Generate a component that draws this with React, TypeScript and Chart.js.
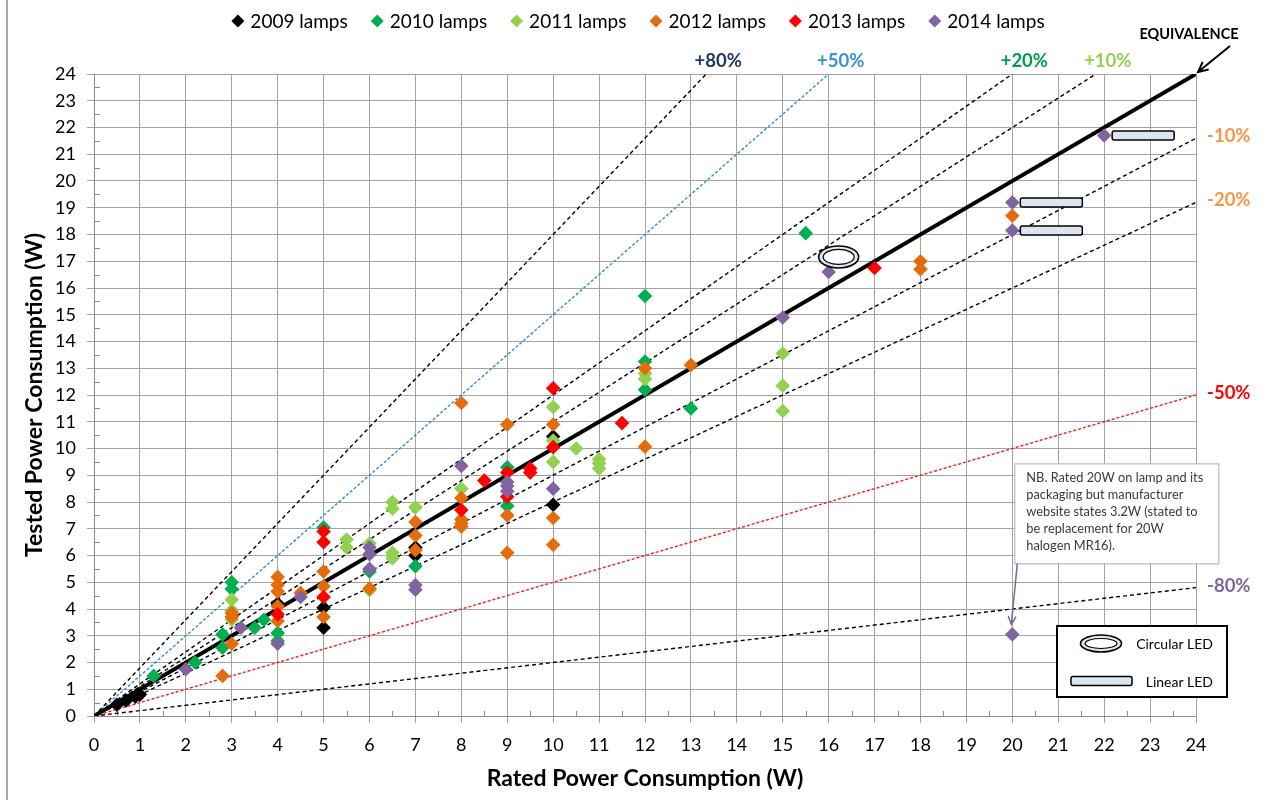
import React, { useEffect, useRef } from "react";
import { Chart, registerables } from "chart.js";

Chart.register(...registerables);

const FONT = "Lato, 'Open Sans', sans-serif";

// Lamp series: rated power (W) and tested power (W)
const seriesNames = ["2009 lamps", "2010 lamps", "2011 lamps", "2012 lamps", "2013 lamps", "2014 lamps"];
const seriesColors = ["#000000", "#00b050", "#92d050", "#e46c0a", "#ff0000", "#8064a2"];

const rated2009 = [0.5, 0.7, 0.9, 1, 4, 5, 5, 7, 7, 10, 10];
const tested2009 = [0.42, 0.58, 0.72, 0.8, 4.2, 4.05, 3.3, 6.0, 6.3, 10.45, 7.9];

const rated2010 = [1.3, 2.2, 2.8, 2.8, 3, 3, 3.5, 3.7, 4, 4, 5, 6, 7, 9, 9, 12, 12, 12, 13, 15.5];
const tested2010 = [1.5, 2.0, 3.05, 2.55, 5.0, 4.75, 3.3, 3.6, 3.1, 2.8, 7.05, 5.4, 5.6, 9.3, 7.85, 15.7, 13.25, 12.2, 11.5, 18.05];

const rated2011 = [3, 3, 3, 5.5, 5.5, 6, 6, 6.5, 6.5, 6.5, 6.5, 7, 8, 10, 10, 10, 10.5, 11, 11, 11, 12, 12, 15, 15, 15];
const tested2011 = [4.35, 3.95, 3.6, 6.6, 6.3, 6.45, 4.7, 8.0, 7.75, 6.1, 5.9, 7.8, 8.5, 11.55, 10.3, 9.5, 10.0, 9.6, 9.45, 9.25, 12.8, 12.6, 13.55, 12.35, 11.4];

const rated2012 = [2.8, 3, 3, 3, 4, 4, 4, 4, 4, 4.5, 5, 5, 5, 6, 7, 7, 7, 8, 8, 8, 8, 8, 9, 9, 9, 10, 10, 10, 12, 12, 13, 18, 18, 20];
const tested2012 = [1.5, 3.85, 3.7, 2.7, 5.2, 4.9, 4.65, 4.1, 3.55, 4.6, 5.4, 4.85, 3.7, 4.77, 7.25, 6.75, 6.2, 11.7, 8.15, 7.35, 7.2, 7.08, 10.9, 7.5, 6.1, 10.9, 7.4, 6.4, 13.0, 10.07, 13.12, 17.0, 16.7, 18.7];

const rated2013 = [4, 5, 5, 5, 8, 8.5, 9, 9, 9.5, 9.5, 10, 10, 11.5, 17];
const tested2013 = [3.8, 6.9, 6.5, 4.45, 7.7, 8.8, 9.1, 8.2, 9.25, 9.1, 12.25, 10.05, 10.95, 16.75];

const rated2014 = [2, 3.2, 4, 4.5, 6, 6, 6, 7, 7, 8, 9, 9, 9, 10, 15, 16, 20, 20, 22, 20];
const tested2014 = [1.75, 3.3, 2.7, 4.45, 6.3, 6.05, 5.5, 4.9, 4.72, 9.35, 8.75, 8.6, 8.4, 8.5, 14.9, 16.6, 19.2, 18.15, 21.7, 3.05];

const ratedSeries = [rated2009, rated2010, rated2011, rated2012, rated2013, rated2014];
const testedSeries = [tested2009, tested2010, tested2011, tested2012, tested2013, tested2014];

// Deviation guide lines (tested / rated)
const guideLabels = ["+80%", "+50%", "+20%", "+10%", "-10%", "-20%", "-50%", "-80%"];
const guideRatios = [1.8, 1.5, 1.2, 1.1, 0.9, 0.8, 0.5, 0.2];
const guideLineColors = ["#000000", "#2f8bd4", "#000000", "#000000", "#000000", "#000000", "#ff1a1a", "#000000"];
const guideLabelColors = ["#1f3864", "#3a8fd6", "#00a04a", "#92d050", "#f79646", "#f79646", "#ff0000", "#8064a2"];

const AXIS_MAX = 24;
const axisTicks = Array.from({ length: AXIS_MAX + 1 }, (_, i) => i);

// Lamps highlighted as LED form factors
const circularLedLamp = [16, 16.6];
const linearLedLamps = [
  [22, 21.7],
  [20, 19.2],
  [20, 18.15],
];
// Lamp with the explanatory note
const notedLamp = [20, 3.05];
const noteLines = [
  "NB. Rated 20W on lamp and its",
  "packaging but manufacturer",
  "website states 3.2W (stated to",
  "be replacement for 20W",
  "halogen MR16).",
];

function drawRing(ctx: CanvasRenderingContext2D, cx: number, cy: number, rx: number, ry: number) {
  ctx.beginPath();
  ctx.ellipse(cx, cy, rx, ry, 0, 0, Math.PI * 2);
  ctx.fillStyle = "#dce6f2";
  ctx.fill();
  ctx.lineWidth = 1.6;
  ctx.strokeStyle = "#000";
  ctx.stroke();
  ctx.beginPath();
  ctx.ellipse(cx, cy, rx - 4.5, ry - 3.5, 0, 0, Math.PI * 2);
  ctx.fillStyle = "#ffffff";
  ctx.fill();
  ctx.lineWidth = 1.2;
  ctx.stroke();
}

function drawBar(ctx: CanvasRenderingContext2D, x: number, cy: number, w: number, h: number) {
  const y = cy - h / 2;
  const r = 2;
  ctx.beginPath();
  ctx.moveTo(x + r, y);
  ctx.lineTo(x + w - r, y);
  ctx.quadraticCurveTo(x + w, y, x + w, y + r);
  ctx.lineTo(x + w, y + h - r);
  ctx.quadraticCurveTo(x + w, y + h, x + w - r, y + h);
  ctx.lineTo(x + r, y + h);
  ctx.quadraticCurveTo(x, y + h, x, y + h - r);
  ctx.lineTo(x, y + r);
  ctx.quadraticCurveTo(x, y, x + r, y);
  ctx.closePath();
  ctx.fillStyle = "#dce6f2";
  ctx.fill();
  ctx.lineWidth = 1.5;
  ctx.strokeStyle = "#000";
  ctx.stroke();
}

function drawArrow(ctx: CanvasRenderingContext2D, x1: number, y1: number, x2: number, y2: number, color: string, width: number, head: number) {
  const a = Math.atan2(y2 - y1, x2 - x1);
  ctx.strokeStyle = color;
  ctx.lineWidth = width;
  ctx.beginPath();
  ctx.moveTo(x1, y1);
  ctx.lineTo(x2, y2);
  ctx.moveTo(x2 - head * Math.cos(a - 0.45), y2 - head * Math.sin(a - 0.45));
  ctx.lineTo(x2, y2);
  ctx.lineTo(x2 - head * Math.cos(a + 0.45), y2 - head * Math.sin(a + 0.45));
  ctx.stroke();
}

const decorations = {
  id: "decorations",
  beforeDraw(chart: any) {
    const { ctx } = chart;
    ctx.save();
    ctx.fillStyle = "#ffffff";
    ctx.fillRect(0, 0, chart.width, chart.height);
    ctx.strokeStyle = "#a6a6a6";
    ctx.lineWidth = 2;
    ctx.beginPath();
    ctx.moveTo(7, 0);
    ctx.lineTo(7, chart.height);
    ctx.stroke();
    ctx.restore();
  },
  beforeDatasetsDraw(chart: any) {
    // half-unit minor tick marks on both axes
    const { ctx, chartArea, scales } = chart;
    ctx.save();
    ctx.strokeStyle = "#8c8c8c";
    ctx.lineWidth = 1;
    ctx.beginPath();
    for (let i = 0; i < AXIS_MAX; i++) {
      const v = i + 0.5;
      const x = Math.round(scales.x.getPixelForValue(v)) + 0.5;
      ctx.moveTo(x, chartArea.bottom);
      ctx.lineTo(x, chartArea.bottom - 5);
      const y = Math.round(scales.y.getPixelForValue(v)) + 0.5;
      ctx.moveTo(chartArea.left, y);
      ctx.lineTo(chartArea.left + 6, y);
    }
    ctx.stroke();
    ctx.restore();
  },
  afterDraw(chart: any) {
    const { ctx, chartArea, scales } = chart;
    const xs = scales.x;
    const ys = scales.y;
    ctx.save();

    // series legend
    ctx.font = `19px ${FONT}`;
    ctx.textBaseline = "middle";
    ctx.textAlign = "left";
    const dia = 6.5;
    const textGap = 6;
    const itemGap = 23;
    const widths = seriesNames.map((n) => dia * 2 + textGap + ctx.measureText(n).width);
    const total = widths.reduce((a, b) => a + b, 0) + itemGap * (widths.length - 1);
    let lx = 638 - total / 2;
    const ly = 21;
    seriesNames.forEach((name, i) => {
      const cx = lx + dia;
      ctx.beginPath();
      ctx.moveTo(cx, ly - dia);
      ctx.lineTo(cx + dia, ly);
      ctx.lineTo(cx, ly + dia);
      ctx.lineTo(cx - dia, ly);
      ctx.closePath();
      ctx.fillStyle = seriesColors[i];
      ctx.fill();
      ctx.fillStyle = "#000";
      ctx.fillText(name, lx + dia * 2 + textGap, ly + 1);
      lx += widths[i] + itemGap;
    });

    // guide line labels
    ctx.font = `bold 18.5px ${FONT}`;
    guideRatios.forEach((r, i) => {
      ctx.fillStyle = guideLabelColors[i];
      if (r > 1) {
        ctx.textAlign = "center";
        ctx.fillText(guideLabels[i], xs.getPixelForValue(AXIS_MAX / r) + 12, chartArea.top - 13);
      } else {
        ctx.textAlign = "left";
        ctx.fillText(guideLabels[i], chartArea.right + 11, ys.getPixelForValue(AXIS_MAX * r) - 2);
      }
    });

    // equivalence label and arrow
    ctx.fillStyle = "#000";
    ctx.textAlign = "center";
    ctx.font = `bold 14.5px ${FONT}`;
    const ex = xs.getPixelForValue(AXIS_MAX);
    const ey = ys.getPixelForValue(AXIS_MAX);
    ctx.fillText("EQUIVALENCE", ex - 7, ey - 40);
    drawArrow(ctx, ex + 34, ey - 28, ex + 2, ey - 2, "#000", 2, 11);

    // circular LED marker
    const cpx = xs.getPixelForValue(circularLedLamp[0]);
    const cpy = ys.getPixelForValue(circularLedLamp[1]);
    drawRing(ctx, cpx + 10, cpy - 15, 20, 11);

    // linear LED markers
    linearLedLamps.forEach(([rx, ty]) => {
      drawBar(ctx, xs.getPixelForValue(rx) + 8, ys.getPixelForValue(ty), 62, 9);
    });

    // note box with arrow to the lamp it describes
    const nx = xs.getPixelForValue(notedLamp[0]);
    const ny = ys.getPixelForValue(notedLamp[1]);
    const bx = nx + 2;
    const by = ny - 171;
    const bw = 204;
    const bh = 100;
    ctx.fillStyle = "#ffffff";
    ctx.fillRect(bx, by, bw, bh);
    ctx.strokeStyle = "#b3a2c7";
    ctx.lineWidth = 1;
    ctx.strokeRect(bx + 0.5, by + 0.5, bw, bh);
    ctx.fillStyle = "#3a3a3a";
    ctx.textAlign = "left";
    ctx.font = `12.8px ${FONT}`;
    noteLines.forEach((line, i) => {
      ctx.fillText(line, bx + 12, by + 14 + i * 17.1);
    });
    drawArrow(ctx, bx + 3, by + bh, nx - 1, ny - 10, "#8064a2", 1.5, 9);

    // LED shape key
    const kr = chartArea.right + 31;
    const kb = chartArea.bottom - 19;
    const kl = kr - 170;
    const kt = kb - 71;
    ctx.fillStyle = "#ffffff";
    ctx.fillRect(kl, kt, kr - kl, kb - kt);
    ctx.strokeStyle = "#000";
    ctx.lineWidth = 2;
    ctx.strokeRect(kl, kt, kr - kl, kb - kt);
    drawRing(ctx, kl + 44, kt + 17.5, 20.5, 8.5);
    drawBar(ctx, kl + 14, kt + 55, 61, 9);
    ctx.fillStyle = "#000";
    ctx.textAlign = "right";
    ctx.font = `14px ${FONT}`;
    ctx.fillText("Circular LED", kr - 14, kt + 18);
    ctx.fillText("Linear LED", kr - 14, kt + 56);

    ctx.restore();
  },
};

export default function App() {
  const canvasRef = useRef<HTMLCanvasElement | null>(null);

  useEffect(() => {
    const canvas = canvasRef.current;
    if (!canvas) return;

    const lampDatasets = seriesNames.map((name, i) => ({
      label: name,
      data: ratedSeries[i].map((x, j) => ({ x, y: testedSeries[i][j] })),
      backgroundColor: seriesColors[i],
      borderColor: seriesColors[i],
      pointStyle: "rectRot" as const,
      pointRadius: 7.3,
      pointBorderWidth: 0,
      showLine: false,
      order: seriesNames.length - i,
    }));

    const guideDatasets = guideRatios.map((r, i) => {
      const endX = r > 1 ? AXIS_MAX / r : AXIS_MAX;
      return {
        label: guideLabels[i],
        data: [
          { x: 0, y: 0 },
          { x: endX, y: endX * r },
        ],
        borderColor: guideLineColors[i],
        backgroundColor: guideLineColors[i],
        borderWidth: 1.4,
        borderDash: r === 1.5 || r === 0.5 ? [3, 2] : [4, 3],
        pointRadius: 0,
        showLine: true,
        order: 20 + i,
      };
    });

    const equivalence = {
      label: "EQUIVALENCE",
      data: [
        { x: 0, y: 0 },
        { x: AXIS_MAX, y: AXIS_MAX },
      ],
      borderColor: "#000000",
      backgroundColor: "#000000",
      borderWidth: 4,
      pointRadius: 0,
      showLine: true,
      order: 10,
    };

    const tickFont = { family: FONT, size: 18 };
    const titleFont = { family: FONT, size: 23, weight: "bold" as const };

    const chart = new Chart(canvas, {
      type: "scatter",
      data: { datasets: [...lampDatasets, equivalence, ...guideDatasets] as any },
      options: {
        responsive: false,
        animation: false,
        layout: { padding: { top: 74, right: 91, bottom: 0, left: 0 } },
        plugins: {
          legend: { display: false },
          tooltip: { enabled: false },
        },
        scales: {
          x: {
            type: "linear",
            min: 0,
            max: AXIS_MAX,
            afterFit(scale: any) {
              scale.height = 84;
            },
            afterBuildTicks(scale: any) {
              scale.ticks = axisTicks.map((v) => ({ value: v }));
            },
            ticks: { color: "#000", font: tickFont, padding: 11, maxRotation: 0 },
            grid: { color: "#a3a3a3", lineWidth: 1, tickLength: 7 },
            border: { color: "#8c8c8c", width: 1 },
            title: {
              display: true,
              text: "Rated Power Consumption (W)",
              color: "#000",
              font: titleFont,
              padding: { top: 0, bottom: 8 },
            },
          },
          y: {
            type: "linear",
            min: 0,
            max: AXIS_MAX,
            afterFit(scale: any) {
              scale.width = 94;
            },
            afterBuildTicks(scale: any) {
              scale.ticks = axisTicks.map((v) => ({ value: v }));
            },
            ticks: { color: "#000", font: tickFont, padding: 11 },
            grid: { color: "#a3a3a3", lineWidth: 1, tickLength: 7 },
            border: { color: "#8c8c8c", width: 1 },
            title: {
              display: true,
              text: "Tested Power Consumption (W)",
              color: "#000",
              font: titleFont,
              padding: { top: 21, bottom: 0 },
            },
          },
        },
      },
      plugins: [decorations],
    });

    return () => chart.destroy();
  }, []);

  return (
    <div style={{ position: "fixed", left: 0, top: 0, width: 1287, height: 800, background: "#fff" }}>
      <canvas ref={canvasRef} width={1287} height={800} style={{ display: "block" }} />
    </div>
  );
}
